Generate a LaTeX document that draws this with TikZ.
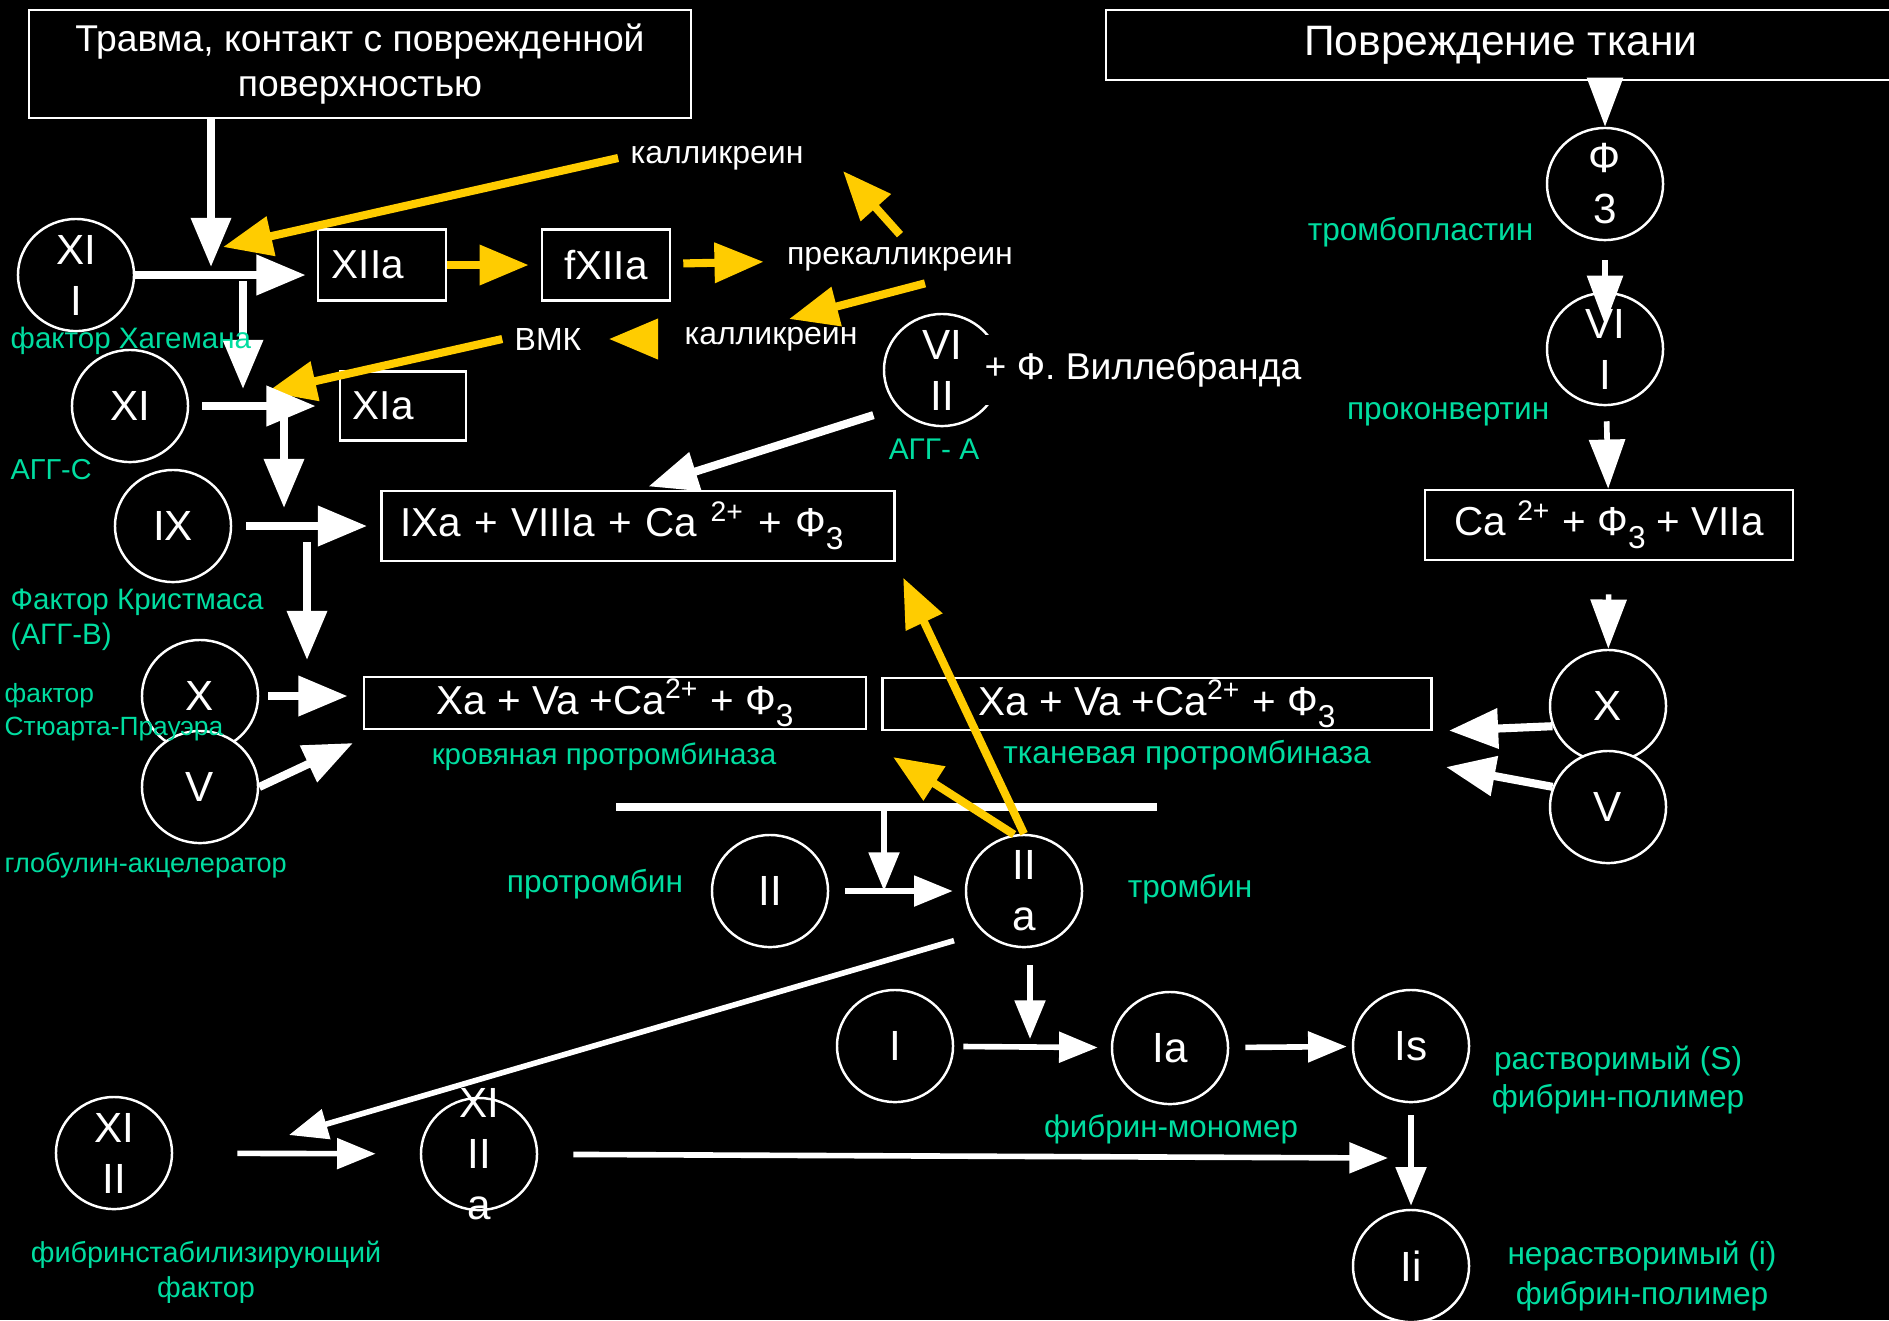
\documentclass[tikz,border=0pt]{standalone}
\usepackage{fontspec}
\setmainfont{Liberation Sans}
\usepackage{tikz}
\usetikzlibrary{arrows.meta,shapes.geometric}
\definecolor{lblgreen}{RGB}{0,221,160}
\definecolor{kalyellow}{RGB}{255,204,0}
\newcommand{\lowsub}[1]{\raisebox{-0.6ex}{\fontsize{9}{9}\selectfont #1}}

\begin{document}
\begin{tikzpicture}[x=0.01cm, y=-0.01cm,
  fac/.style={ellipse, draw=white, line width=0.7pt, fill=black, text=white,
    minimum width=1.16cm, minimum height=1.12cm, inner sep=-14pt, align=center,
    font=\fontsize{12}{14.5}\selectfont},
  box/.style={draw=white, line width=0.7pt, text=white, inner sep=0pt,
    font=\fontsize{11.5}{14}\selectfont},
  wtxt/.style={text=white, font=\fontsize{9.1}{11}\selectfont},
  lbl/.style={text=lblgreen, inner xsep=0pt, font=\fontsize{8.4}{10}\selectfont},
  warr/.style={draw=white, line width=2.3pt, -{Triangle[length=14pt,width=11pt]}},
  yarr/.style={draw=kalyellow, line width=2.3pt, -{Triangle[length=14pt,width=11pt]}},
  rarr/.style={draw=white, line width=1.6pt, -{Triangle[length=14pt,width=10pt]}},
  tarr/.style={draw=white, line width=1.6pt, -{Triangle[length=11pt,width=8.5pt]}}]

\useasboundingbox (0,0) rectangle (1889,1320);
\fill[black] (0,0) rectangle (1889,1320);

% boxes
\node[box, minimum width=6.62cm, minimum height=1.08cm, align=center,
  font=\fontsize{10.6}{12.9}\selectfont] (trauma) at (360,64) {Травма, контакт с поврежденной\\поверхностью};
\node[box, minimum width=7.9cm, minimum height=0.70cm, font=\fontsize{12.1}{14}\selectfont] (tissue) at (1501,45) {Повреждение ткани};
\node[box, minimum width=1.28cm, minimum height=0.71cm, text width=1.0cm, align=left] (xiia) at (382,265) {XIIa};
\node[box, minimum width=1.28cm, minimum height=0.71cm] (fxiia) at (606,265) {fXIIa};
\node[box, minimum width=1.26cm, minimum height=0.69cm, text width=1.0cm, align=left] (xia) at (403,406) {XIa};
\node[box, minimum width=5.13cm, minimum height=0.70cm, text width=4.75cm, align=left] (ixa) at (638,526)
  {IXa + VIIIa + Ca \textsuperscript{2+} + Ф\lowsub{3}};
\node[box, minimum width=5.02cm, minimum height=0.52cm] (blood) at (615,703)
  {Xa + Va +Ca\textsuperscript{2+} + Ф\lowsub{3}};
\node[box, minimum width=5.49cm, minimum height=0.52cm] (tisspro) at (1157,704)
  {Xa + Va +Ca\textsuperscript{2+} + Ф\lowsub{3}};
\node[box, minimum width=3.68cm, minimum height=0.70cm] (cabox) at (1609,525)
  {Ca \textsuperscript{2+} + Ф\lowsub{3} + VIIa};

% factors
\node[fac] (xii) at (76,275) {XI\\I};
\node[fac] (xi) at (130,406) {XI};
\node[fac] (ix) at (173,526) {IX};
\node[fac] (fx) at (200,696) {X};
\node[fac] (fv) at (200,787) {V};
\node[fac] (viii) at (942,370) {VI\\II};
\node[fac] (f3) at (1605,184) {Ф\\3};
\node[fac] (vii) at (1605,349) {VI\\I};
\node[fac] (fxr) at (1608,706) {X};
\node[fac] (fvr) at (1608,807) {V};
\node[fac] (ii) at (770,891) {II};
\node[fac] (iia) at (1024,891) {II\\a};
\node[fac] (fib) at (895,1046) {I};
\node[fac] (fibm) at (1170,1048) {Ia};
\node[fac] (fibs) at (1411,1046) {Is};
\node[fac] (fibi) at (1411,1266) {Ii};
\node[fac] (xiii) at (114,1153) {XI\\II};
\node[fac] (xiiia) at (479,1154) {XI\\II\\a};
\node[wtxt, fill=black, inner xsep=0pt, inner ysep=5pt, anchor=west,
  font=\fontsize{10.6}{12}\selectfont] (vwf) at (984,370) {+ Ф. Виллебранда};

% white texts
\node[wtxt] (kal1) at (717,158) {калликреин};
\node[wtxt] (prekal) at (900,259) {прекалликреин};
\node[wtxt] (kal2) at (771,339) {калликреин};
\node[wtxt] (vmk) at (548,339) {ВМК};

% free ends
\coordinate (j1) at (211,267);
\coordinate (k1) at (223,247);
\coordinate (k2) at (843,171);
\coordinate (k3) at (789,319);
\coordinate (k4) at (267,392);
\coordinate (j2a) at (243,281); \coordinate (j2) at (243,389);
\coordinate (j3a) at (284,410); \coordinate (j3) at (284,508);
\coordinate (j4a) at (307,542); \coordinate (j4) at (307,660);
\coordinate (b1) at (353,743);
\coordinate (t2) at (1446,767);
\coordinate (l1) at (616,807); \coordinate (l2) at (1157,807);
\coordinate (l3) at (884,807); \coordinate (l4) at (884,891);
\coordinate (y2) at (893,757);
\coordinate (s2) at (289,1135);
\coordinate (m2) at (1030,1039);
\coordinate (f1) at (1388,1158);

% contact pathway
\draw[warr] (trauma.south -| j1) -- (j1);
\draw[warr, shorten >=0.11cm] (xii.east) -- (xii.east -| xiia.west);
\draw[yarr] (kal1.west) -- (k1);
\draw[yarr, shorten >=0.12cm] (xiia) -- (fxiia);
\draw[yarr, shorten <=0.12cm, shorten >=0.11cm] (fxiia) -- (prekal);
\draw[yarr] (prekal.north) -- (k2);
\draw[yarr] ([xshift=0.25cm]prekal.south) -- (k3);
\draw[yarr, shorten <=0.14cm, shorten >=0.15cm] (kal2) -- (vmk);
\draw[yarr] (vmk.west) -- (k4);
\draw[warr] (j2a) -- (j2);
\draw[warr, shorten <=0.13cm, shorten >=0.23cm] (xi) -- (xi -| xia.west);
\draw[warr] (j3a) -- (j3);
\draw[warr, shorten <=0.14cm, shorten >=0.13cm] (ix) -- (ix -| ixa.west);
\draw[warr, shorten <=0.25cm, shorten >=0.11cm] (viii.220) -- (ixa.north);
\draw[warr] (j4a) -- (j4);
\draw[warr, shorten <=0.09cm, shorten >=0.15cm] (fx.east) -- (fx.east -| blood.west);
\draw[warr] (fv.east) -- (b1);

% tissue pathway
\draw[rarr] (tissue.south -| f3) -- (f3.north);
\draw[rarr, shorten <=0.19cm, shorten >=-0.33cm] (f3) -- (vii);
\draw[rarr, shorten <=0.15cm] (vii) -- (cabox);
\draw[rarr, shorten <=0.33cm] (cabox) -- (fxr);
\draw[warr, shorten >=0.16cm] (fxr.200) -- (tisspro.south east);
\draw[warr] (fvr.160) -- (t2);

% thrombin and fibrin
\draw[white, line width=2.3pt] (l1) -- (l2);
\draw[tarr] (l3) -- (l4);
\draw[tarr, shorten <=0.16cm, shorten >=0.12cm] (ii) -- (iia);
\draw[yarr, shorten >=0.17cm] (iia.north) -- (ixa.south east);
\draw[yarr] (iia.100) -- (y2);
\draw[tarr, shorten <=0.3cm] (iia.225) -- (s2);
\draw[tarr, shorten <=0.17cm] (iia.south -| m2) -- (m2);
\draw[tarr, shorten <=0.09cm, shorten >=0.13cm] (fib) -- (fibm);
\draw[tarr, shorten <=0.16cm, shorten >=0.05cm] (fibm) -- (fibs);
\draw[tarr, shorten <=0.12cm, shorten >=0.03cm] (fibs) -- (fibi);
\draw[tarr, shorten <=0.64cm, shorten >=0.44cm] (xiii) -- (xiiia);
\draw[tarr, shorten <=0.35cm] (xiiia) -- (f1);

% green labels
\node[lbl, anchor=west] (hag) at (10,341) {фактор Хагемана};
\node[lbl, anchor=west, font=\fontsize{8.2}{10}\selectfont] (aggc) at (10,470) {АГГ-С};
\node[lbl, anchor=west, align=left, font=\fontsize{8.4}{10}\selectfont] (chr) at (10,620) {Фактор Кристмаса\\(АГГ-В)};
\node[lbl, anchor=west, align=left, font=\fontsize{7.5}{9.4}\selectfont] (stu) at (4,712) {фактор\\Стюарта-Прауэра};
\node[lbl, anchor=west, font=\fontsize{7.7}{10}\selectfont] (glob) at (4,865) {глобулин-акцелератор};
\node[lbl, font=\fontsize{8.5}{10}\selectfont] (agga) at (934,449) {АГГ- А};
\node[lbl, anchor=east, font=\fontsize{9}{10}\selectfont] (trpl) at (1534,232) {тромбопластин};
\node[lbl, anchor=east, font=\fontsize{9}{10}\selectfont] (prok) at (1550,414) {проконвертин};
\node[lbl] (bpro) at (604,757) {кровяная протромбиназа};
\node[lbl, font=\fontsize{9}{10}\selectfont] (tpro) at (1187,755) {тканевая протромбиназа};
\node[lbl, font=\fontsize{9}{11}\selectfont] (prot) at (595,884) {протромбин};
\node[lbl, font=\fontsize{9}{11}\selectfont] (thr) at (1190,889) {тромбин};
\node[lbl, align=center, font=\fontsize{9}{11}\selectfont] (solp) at (1618,1080) {растворимый (S)\\фибрин-полимер};
\node[lbl, font=\fontsize{8.9}{11}\selectfont] (mono) at (1171,1129) {фибрин-мономер};
\node[lbl, align=center, font=\fontsize{9}{11.4}\selectfont] (insp) at (1642,1276) {нерастворимый (i)\\фибрин-полимер};
\node[lbl, align=center, font=\fontsize{8.2}{10}\selectfont] (fsf) at (206,1272) {фибринстабилизирующий\\фактор};
\end{tikzpicture}
\end{document}
